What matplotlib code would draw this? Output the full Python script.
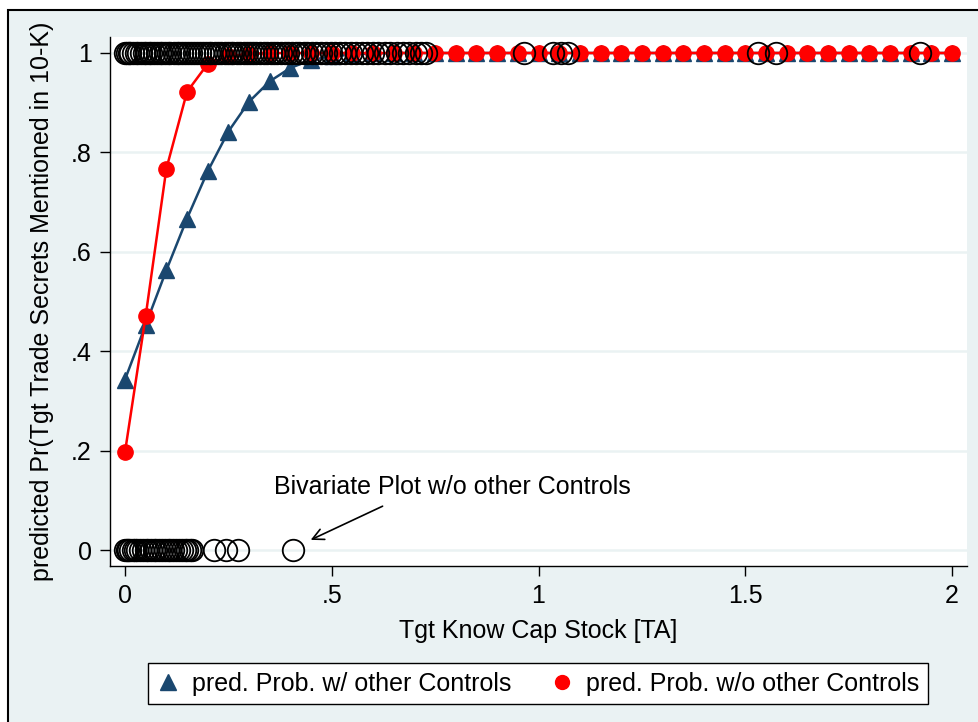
import matplotlib
matplotlib.use("Agg")
import matplotlib.pyplot as plt
from matplotlib.patches import Rectangle

plt.rcParams['font.family'] = ['Liberation Sans', 'DejaVu Sans']

# predicted probabilities on the Tgt Know Cap Stock grid
grid_x = [0.0, 0.05, 0.1, 0.15, 0.2, 0.25, 0.3, 0.35, 0.4, 0.45,
          0.5, 0.55, 0.6, 0.65, 0.7, 0.75, 0.8, 0.85, 0.9, 0.95,
          1.0, 1.05, 1.1, 1.15, 1.2, 1.25, 1.3, 1.35, 1.4, 1.45,
          1.5, 1.55, 1.6, 1.65, 1.7, 1.75, 1.8, 1.85, 1.9, 1.95, 2.0]
pred_ctrl = [0.343, 0.453, 0.563, 0.667, 0.762, 0.842, 0.902, 0.943, 0.970, 0.986,
             0.993, 0.997, 0.999, 1.0, 1.0, 1.0, 1.0, 1.0, 1.0, 1.0,
             1.0, 1.0, 1.0, 1.0, 1.0, 1.0, 1.0, 1.0, 1.0, 1.0,
             1.0, 1.0, 1.0, 1.0, 1.0, 1.0, 1.0, 1.0, 1.0, 1.0, 1.0]
pred_noctrl = [0.197, 0.471, 0.767, 0.922, 0.978, 0.994, 0.998, 1.0, 1.0, 1.0,
               1.0, 1.0, 1.0, 1.0, 1.0, 1.0, 1.0, 1.0, 1.0, 1.0,
               1.0, 1.0, 1.0, 1.0, 1.0, 1.0, 1.0, 1.0, 1.0, 1.0,
               1.0, 1.0, 1.0, 1.0, 1.0, 1.0, 1.0, 1.0, 1.0, 1.0, 1.0]

# observed outcomes (bivariate scatter)
obs_x_one = [0.0, 0.004, 0.009, 0.013, 0.02, 0.026, 0.031, 0.038, 0.045, 0.05,
             0.057, 0.063, 0.071, 0.078, 0.084, 0.09, 0.097, 0.104, 0.11, 0.118,
             0.125, 0.131, 0.139, 0.146, 0.152, 0.16, 0.167, 0.173, 0.181, 0.188,
             0.196, 0.203, 0.209, 0.218, 0.226, 0.233, 0.241, 0.249, 0.256, 0.262,
             0.271, 0.279, 0.287, 0.294, 0.302, 0.31, 0.318, 0.327, 0.335, 0.343,
             0.352, 0.36, 0.368, 0.377, 0.386, 0.395, 0.404, 0.413, 0.421, 0.432,
             0.441, 0.452, 0.463, 0.474, 0.486, 0.497, 0.509, 0.52, 0.533, 0.546,
             0.558, 0.572, 0.585, 0.6, 0.613, 0.628, 0.642, 0.657, 0.672, 0.688,
             0.703, 0.716, 0.728, 0.965, 1.035, 1.055, 1.072, 1.53, 1.575, 1.923]
obs_x_zero = [0.0, 0.004, 0.008, 0.013, 0.019, 0.024, 0.03, 0.037, 0.043, 0.05,
              0.056, 0.063, 0.069, 0.076, 0.083, 0.09, 0.097, 0.104, 0.11, 0.117,
              0.124, 0.13, 0.137, 0.144, 0.151, 0.158, 0.163, 0.216, 0.244, 0.274,
              0.406]

navy = "#1a476f"
bg = "#eaf2f3"
fs = 18

W, H = 979, 722
fig = plt.figure(figsize=(W / 100, H / 100), dpi=100, facecolor="white")
fig.patches.append(Rectangle((8 / W, -0.05), 1.1, 1 - 10 / H + 0.05,
                             transform=fig.transFigure, facecolor=bg,
                             edgecolor="black", linewidth=1.5, zorder=-10))

ax = fig.add_axes([110 / W, 1 - 566 / H, 857 / W, 529 / H])
ax.set_facecolor("white")
for s in ["top", "right"]:
    ax.spines[s].set_visible(False)
for s in ["left", "bottom"]:
    ax.spines[s].set_linewidth(1.0)

ax.set_xlim(-15 / 413.5, 2 + 15 / 413.5)
ax.set_ylim(-16 / 497, 1 + 16 / 497)
ax.set_yticks([0, 0.2, 0.4, 0.6, 0.8, 1.0])
ax.set_yticklabels(["0", ".2", ".4", ".6", ".8", "1"])
ax.set_xticks([0, 0.5, 1, 1.5, 2])
ax.set_xticklabels(["0", ".5", "1", "1.5", "2"])
ax.tick_params(labelsize=fs, length=7, width=1.0, pad=6)
ax.grid(axis="y", color=bg, linewidth=1.8)
ax.set_axisbelow(True)

ax.plot(grid_x, pred_ctrl, color=navy, lw=1.8, marker="^", ms=12,
        label="pred. Prob. w/ other Controls", zorder=3)
ax.plot(grid_x, pred_noctrl, color="red", lw=1.8, marker="o", ms=11,
        label="pred. Prob. w/o other Controls", zorder=4)
ax.plot(obs_x_one, [1.0] * len(obs_x_one), ls="none", marker="o", ms=15.5,
        mfc="none", mec="black", mew=1.3, zorder=5)
ax.plot(obs_x_zero, [0.0] * len(obs_x_zero), ls="none", marker="o", ms=15.5,
        mfc="none", mec="black", mew=1.3, zorder=5)

ax.annotate("", xy=(0.443, 0.018), xytext=(0.629, 0.0905),
            arrowprops=dict(arrowstyle="->", color="black", lw=1.2,
                            mutation_scale=20))
ax.text(0.36, 0.127, "Bivariate Plot w/o other Controls", fontsize=fs,
        ha="left", va="center")

ax.set_xlabel("Tgt Know Cap Stock [TA]", fontsize=fs, labelpad=8)
ax.set_ylabel("predicted Pr(Tgt Trade Secrets Mentioned in 10-K)",
              fontsize=fs, labelpad=12)

handles = [
    plt.Line2D([], [], ls="none", marker="^", ms=11, color=navy),
    plt.Line2D([], [], ls="none", marker="o", ms=10, color="red"),
]
leg = fig.legend(handles, ["pred. Prob. w/ other Controls",
                           "pred. Prob. w/o other Controls"],
                 ncol=2, loc="center", bbox_to_anchor=(538 / W, 1 - 683.5 / H),
                 fontsize=fs, frameon=True, fancybox=False, framealpha=1,
                 edgecolor="black", handlelength=0.9, handletextpad=0.5,
                 columnspacing=1.6, borderpad=0.35, borderaxespad=0)
leg.get_frame().set_linewidth(1.0)

fig.savefig("out.png", dpi=100, facecolor=fig.get_facecolor())
